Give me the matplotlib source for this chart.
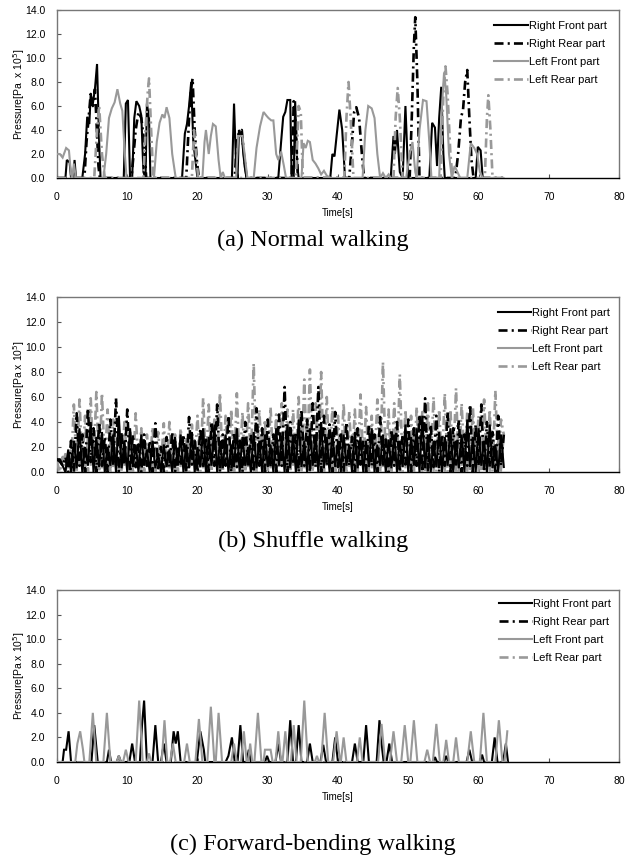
import numpy as np
import matplotlib
matplotlib.use("Agg")
import matplotlib.pyplot as plt

plt.rcParams['font.family'] = ['Liberation Sans', 'DejaVu Sans']
plt.rcParams['lines.scale_dashes'] = False

# ---------------- data ----------------
labels = ["Right Front part", "Right Rear part", "Left Front part", "Left Rear part"]
captions = ["(a) Normal walking", "(b) Shuffle walking", "(c) Forward-bending walking"]
x_ticks = [0, 10, 20, 30, 40, 50, 60, 70, 80]
y_ticks = [0, 2, 4, 6, 8, 10, 12, 14]

# (a) Normal walking  -- (time, value)
a_rf_t = [0, 1.2, 1.4, 1.8, 2.0, 2.3, 2.5, 2.7,
          3.6, 4.0, 4.3, 4.6, 4.8, 5.1, 5.4, 5.7, 6.0, 6.2,
          9.5, 9.8, 10.1, 10.4, 10.7, 11.0, 11.3, 11.7, 12.0, 12.3, 12.6, 12.8, 13.1, 13.3,
          17.8, 18.2, 18.5, 18.8, 19.1, 19.4, 19.8, 20.0,
          24.9, 25.2, 25.5, 25.7, 25.9, 26.3, 26.7, 27.0,
          31.5, 31.9, 32.2, 32.5, 32.8, 33.2, 33.4, 33.7, 33.9, 34.2, 34.4,
          38.9, 39.2, 39.5, 39.8, 40.2, 40.6, 41.0,
          47.5, 47.9, 48.1, 48.4, 48.8, 49.2, 49.6, 50.0,
          53.0, 53.4, 53.8, 54.1, 54.4, 54.7, 55.0, 55.2,
          59.6, 59.9, 60.3, 60.6, 63.5]
a_rf_v = [0, 0, 1.5, 1.3, 0, 0, 1.5, 0,
          0, 2.0, 5.1, 4.5, 7.0, 6.2, 7.4, 9.5, 3.0, 0,
          0, 6.2, 6.5, 0, 0, 5.0, 6.4, 6.0, 5.2, 0.5, 0, 6.2, 5.0, 0,
          0, 3.7, 4.5, 6.0, 8.0, 3.0, 1.0, 0,
          0, 6.2, 1.0, 0, 4.0, 3.5, 1.0, 0,
          0, 3.0, 5.1, 5.5, 6.5, 6.5, 0, 0, 6.4, 1.0, 0,
          0, 2.0, 1.8, 3.5, 5.7, 4.0, 0,
          0, 3.5, 2.0, 4.0, 0.5, 0, 6.0, 0,
          0, 4.6, 4.2, 1.0, 5.0, 7.6, 2.0, 0,
          0, 2.6, 2.3, 0, 0]

a_rr_t = [0, 3.9, 4.2, 4.5, 4.8, 5.1, 5.4, 5.6, 5.9, 6.1,
          10.6, 10.9, 11.2, 11.6, 12.0, 12.4, 12.7,
          18.4, 18.8, 19.1, 19.3, 19.6, 19.9, 20.2,
          25.3, 25.6, 25.9, 26.3, 26.6, 27.0,
          33.4, 33.7, 34.0, 34.3,
          41.6, 42.0, 42.3, 42.6, 43.0, 43.4, 43.7,
          50.2, 50.5, 50.8, 51.0, 51.3, 51.6,
          56.7, 57.1, 57.5, 57.8, 58.1, 58.4, 58.7, 59.0, 59.3, 63.5]
a_rr_v = [0, 0, 3.0, 5.0, 7.0, 6.0, 7.4, 5.0, 1.0, 0,
          0, 2.0, 4.0, 5.5, 5.0, 3.0, 0,
          0, 5.0, 7.5, 8.3, 4.0, 1.5, 0,
          0, 3.0, 3.8, 4.0, 2.0, 0,
          0, 6.4, 4.0, 0,
          0, 3.0, 5.5, 5.9, 5.0, 2.0, 0,
          0, 5.0, 11.0, 13.4, 8.0, 0,
          0, 2.0, 5.0, 5.7, 8.0, 9.0, 5.0, 1.5, 0, 0]

a_lf_t = [0, 0.4, 0.8, 1.3, 1.7, 2.0, 2.2, 2.4, 2.7,
          6.6, 7.0, 7.4, 7.8, 8.2, 8.6, 9.0, 9.3, 9.6, 9.9,
          13.8, 14.2, 14.6, 15.0, 15.3, 15.6, 16.0, 16.4, 16.9,
          20.7, 21.0, 21.2, 21.6, 21.9, 22.2, 22.6, 23.0, 23.3, 23.6, 23.9,
          25.5, 25.8, 26.4, 26.8, 27.1,
          28.0, 28.4, 28.9, 29.4, 29.8, 30.1, 30.5, 30.8, 31.2, 31.5, 31.9, 32.3, 32.6,
          34.8, 35.1, 35.4, 35.7, 36.0, 36.4, 36.8, 37.2, 37.6, 38.0, 38.4, 38.9,
          43.5, 43.9, 44.3, 44.8, 45.2, 45.6, 46.0, 46.4, 46.8, 47.2, 47.5,
          49.7, 50.2, 50.6, 51.0,
          51.2, 51.6, 52.1, 52.6, 53.0, 53.3,
          54.4, 54.8, 55.1, 55.4, 55.8, 56.2, 56.6, 57.0, 57.4,
          58.4, 58.9, 59.4, 59.8, 60.2, 60.6, 63.5]
a_lf_v = [2.0, 2.0, 1.7, 2.5, 2.3, 0.3, 0, 1.2, 0,
          0, 2.0, 5.0, 5.8, 6.3, 7.4, 6.2, 5.6, 2.5, 0,
          0, 3.0, 4.6, 5.3, 5.0, 5.9, 5.0, 2.0, 0,
          0, 3.0, 4.0, 2.0, 3.5, 4.5, 4.3, 1.5, 0, 0.5, 0,
          0, 3.5, 3.5, 1.5, 0,
          0, 2.5, 4.3, 5.5, 5.2, 5.0, 4.8, 4.8, 2.0, 1.5, 2.2, 1.0, 0,
          0, 2.9, 2.5, 3.1, 3.0, 1.5, 1.2, 0.8, 0.3, 0.6, 0.2, 0,
          0, 4.0, 6.0, 5.8, 5.0, 2.0, 0, 0.4, 0, 0.3, 0,
          0, 2.0, 3.0, 0.5,
          0, 4.0, 6.5, 6.4, 3.0, 0,
          0, 6.0, 8.8, 7.0, 2.0, 0, 1.0, 0.5, 0,
          0, 2.9, 2.5, 2.0, 0.5, 0, 0]

a_lr_t = [0, 5.3, 5.7, 6.0, 6.4, 6.8,
          12.3, 12.6, 12.9, 13.1, 13.4, 13.7,
          19.2, 19.5, 19.8, 20.1,
          34.0, 34.4, 34.7, 35.0,
          40.9, 41.2, 41.5, 41.8, 42.2,
          47.9, 48.2, 48.5, 48.8, 49.2,
          54.6, 55.0, 55.3, 55.6, 56.0, 56.3,
          60.9, 61.2, 61.4, 61.7, 62.0, 63.5]
a_lr_v = [0, 0, 4.0, 6.0, 2.0, 0,
          0, 4.0, 7.0, 8.3, 4.0, 0,
          0, 4.0, 2.0, 0,
          0, 6.0, 5.5, 0,
          0, 5.0, 8.0, 5.0, 0,
          0, 5.0, 7.5, 5.0, 0,
          0, 7.0, 9.3, 7.0, 2.0, 0,
          0, 5.0, 6.9, 4.0, 0, 0]

# (b) Shuffle walking -- samples every 0.4 s from 0 to 63.6 s
b_time_step = 0.4
b_rf_v = [1.0, 0.8, 0.5, 0, 1.8, 0, 2.5, 0.3, 3.5, 0, 2.0, 0.5, 4.0, 0, 2.8, 0.4, 3.2, 0, 2.0, 0.5,
          3.0, 0, 4.5, 0.3, 2.5, 0, 3.5, 0.4, 2.2, 0, 3.0, 0.5, 1.8, 0, 2.5, 0.3, 1.5, 0, 2.2, 0.4,
          1.8, 0, 2.8, 0.5, 3.0, 0, 2.2, 0.3, 3.2, 0, 2.0, 0.4, 3.5, 0, 2.8, 0.5, 3.8, 0, 2.5, 0.3,
          3.0, 0, 2.2, 0.4, 3.5, 0, 2.8, 0.5, 2.0, 0, 3.2, 0.3, 2.5, 0, 3.0, 0.4, 2.2, 0, 3.5, 0.5,
          2.8, 0, 3.8, 0.3, 3.0, 0, 4.2, 0.4, 2.5, 0, 3.5, 0.5, 3.0, 0, 4.0, 0.3, 2.8, 0, 3.2, 0.4,
          2.5, 0, 3.0, 0.5, 2.2, 0, 3.2, 0.3, 2.8, 0, 2.5, 0.4, 3.5, 0, 2.2, 0.5, 3.0, 0, 2.6, 0.3,
          3.0, 0, 2.5, 0.4, 3.8, 0, 2.8, 0.5, 3.5, 0, 4.5, 0.3, 3.0, 0, 2.5, 0.4, 3.2, 0, 2.8, 0.5,
          3.5, 0, 2.5, 0.3, 3.0, 0, 4.2, 0.4, 2.8, 0, 3.5, 0.5, 2.5, 0, 3.8, 0.3, 2.2, 0, 3.0, 0.4]
b_rr_v = [1.0, 1.0, 0.5, 1.2, 0, 2.5, 0, 4.7, 0.5, 3.0, 0, 5.1, 0.8, 3.5, 0, 4.0, 0.5, 2.8, 0, 4.2,
          0.5, 5.9, 0, 3.2, 0.6, 5.0, 0, 3.0, 0.4, 2.2, 0, 3.0, 0.5, 2.5, 0, 3.9, 0.3, 2.0, 0, 2.8,
          0.4, 3.2, 0, 2.0, 0.5, 3.0, 0, 4.4, 0.6, 2.5, 0, 3.5, 0.3, 2.8, 0, 4.0, 0.5, 5.4, 0, 3.0,
          0.5, 4.5, 0, 3.2, 0.4, 2.5, 0, 4.0, 0.6, 3.0, 0, 5.1, 0.5, 3.5, 0, 4.2, 0.4, 3.0, 0, 4.6,
          0.5, 6.8, 0, 4.0, 0.6, 3.2, 0, 5.0, 0.5, 4.2, 0, 5.5, 0.4, 6.8, 0, 4.5, 0.5, 3.8, 0, 4.8,
          0.4, 3.2, 0, 4.0, 0.5, 2.8, 0, 3.5, 0.6, 2.5, 0, 3.8, 0.5, 3.0, 0, 4.4, 0.4, 2.6, 0, 3.4,
          0.5, 4.0, 0, 3.0, 0.6, 4.2, 0, 3.5, 0.5, 4.6, 0, 5.9, 0, 3.8, 0.4, 4.5, 0, 3.0, 0.5, 4.8,
          0, 3.5, 0.6, 4.2, 0, 3.0, 0.5, 5.4, 0, 3.8, 0.5, 5.4, 0, 4.0, 0.4, 3.2, 0, 4.5, 0.5, 3.0]
b_lf_v = [1.0, 1.0, 0.8, 1.5, 0.3, 1.8, 0, 2.5, 0.4, 2.0, 0, 3.0, 0.5, 2.2, 0, 2.8, 0.3, 1.8, 0, 2.5,
          0.4, 2.0, 0, 2.8, 0.5, 1.5, 0, 2.2, 0.3, 1.8, 0, 2.5, 0.4, 1.5, 0, 2.0, 0.5, 1.2, 0, 1.8,
          0.3, 2.2, 0, 1.6, 0.4, 2.0, 0, 2.5, 0.5, 1.8, 0, 2.8, 0.3, 2.2, 0, 3.0, 0.4, 2.0, 0, 2.6,
          0.5, 2.2, 0, 3.0, 0.3, 2.5, 0, 2.0, 0.4, 2.8, 0, 2.2, 0.5, 3.2, 0, 2.0, 0.3, 2.6, 0, 2.4,
          0.4, 2.8, 0, 3.0, 0.5, 2.2, 0, 3.5, 0.3, 2.6, 0, 2.4, 0.4, 3.0, 0, 2.2, 0.5, 2.8, 0, 2.0,
          0.3, 2.5, 0, 2.2, 0.4, 3.0, 0, 2.0, 0.5, 2.6, 0, 2.4, 0.3, 2.8, 0, 2.2, 0.4, 3.0, 0, 2.5,
          0.5, 2.0, 0, 2.8, 0.3, 2.4, 0, 3.2, 0.4, 2.2, 0, 2.6, 0.5, 3.0, 0, 2.0, 0.3, 2.8, 0, 2.5,
          0.4, 3.0, 0, 2.2, 0.5, 2.6, 0, 2.0, 0.3, 2.8, 0, 2.4, 0.4, 3.0, 0, 2.2, 0.5, 2.6, 0, 2.8]
b_lr_v = [0.8, 0, 1.2, 0, 1.5, 0.3, 5.4, 0, 5.8, 0.5, 4.5, 0, 5.9, 0.4, 6.4, 0, 6.3, 0.5, 5.0, 0,
          4.2, 0.4, 3.5, 0, 4.0, 0.6, 3.2, 0, 4.7, 0.5, 3.5, 0, 3.0, 0.4, 3.6, 0, 3.2, 0.5, 3.9, 0,
          4.0, 0.4, 3.0, 0, 3.5, 0.5, 2.8, 0, 3.8, 0.6, 4.5, 0, 5.9, 0.5, 5.4, 0, 4.2, 0.4, 6.3, 0,
          4.5, 0.5, 5.0, 0, 6.3, 0.4, 4.8, 0, 5.5, 0.6, 8.7, 0, 5.0, 0.5, 4.2, 0, 5.2, 0.4, 4.6, 0,
          5.5, 0.5, 5.0, 0, 5.0, 0.6, 6.0, 0, 7.4, 0.4, 8.2, 0, 5.5, 0.5, 8.0, 0, 6.0, 0.4, 5.2, 0,
          4.5, 0.5, 5.5, 0, 4.8, 0.6, 5.0, 0, 6.2, 0.4, 5.2, 0, 4.5, 0.5, 5.8, 0, 8.8, 0.4, 5.0, 0,
          5.5, 0.5, 7.8, 0, 5.0, 0.6, 4.5, 0, 5.2, 0.4, 4.8, 0, 5.5, 0.5, 6.0, 0, 5.0, 0.4, 6.3, 0,
          5.0, 0.5, 6.7, 0, 5.5, 0.6, 4.8, 0, 5.2, 0.4, 4.5, 0, 5.8, 0.5, 5.0, 0, 6.5, 0.4, 4.2, 3.0]

# (c) Forward-bending walking
c_rf_t = [0, 0.8, 1.0, 1.3, 1.65, 2.0, 4.9, 5.3, 5.8, 7.1, 7.4, 7.7, 8.5, 8.8, 9.1,
          10.3, 10.7, 11.1, 11.8, 12.1, 12.4, 12.8, 13.6, 14.0, 14.4, 14.8, 15.2, 15.6,
          16.2, 16.6, 16.9, 17.2, 17.6, 19.9, 20.4, 20.9, 21.1,
          24.0, 24.4, 24.9, 25.3, 25.7, 26.1, 26.5, 27.0, 27.3, 27.6, 29.6, 29.9, 30.2,
          31.1, 31.5, 31.9, 32.8, 33.2, 33.6, 34.0, 34.4, 34.8, 35.6, 36.0, 36.4,
          37.5, 37.9, 38.3, 39.2, 39.6, 40.0, 42.0, 42.4, 42.8, 43.6, 44.0, 44.4,
          45.5, 45.9, 46.3, 46.5, 46.9, 47.3, 47.7, 53.5, 53.8, 54.1, 55.1, 55.4, 55.7,
          58.3, 58.7, 59.1, 60.2, 60.5, 60.8, 61.9, 62.3, 62.7, 63.5, 63.9, 64.2]
c_rf_v = [0, 0, 1.0, 1.0, 2.5, 0, 0, 3.0, 0, 0, 1.0, 0, 0, 0.5, 0,
          0, 1.5, 0, 0, 3.0, 5.0, 0, 0, 3.0, 0, 0, 1.5, 0,
          0, 2.5, 1.5, 2.5, 0, 0, 2.5, 1.0, 0,
          0, 0.5, 2.0, 0, 0, 3.0, 0, 0, 1.0, 0, 0, 0.5, 0,
          0, 1.5, 0, 0, 3.4, 0, 0, 3.0, 0, 0, 1.5, 0,
          0, 1.4, 0, 0, 2.0, 0, 0, 1.5, 0, 0, 3.0, 0,
          0, 3.4, 1.0, 0, 0, 1.5, 0, 0, 0.4, 0, 0, 0.5, 0,
          0, 1.0, 0, 0, 0.6, 0, 0, 2.0, 0, 0, 1.5, 0]

c_lf_t = [0, 2.6, 2.9, 3.3, 3.7, 3.9, 4.6, 5.1, 5.6, 6.6, 7.1, 7.6, 8.5, 8.8, 9.1,
          9.4, 9.8, 10.2, 11.2, 11.7, 12.2, 12.8, 13.1, 13.4, 14.9, 15.3, 15.7,
          16.1, 16.5, 16.9, 18.1, 18.5, 18.9, 19.7, 20.2, 20.7, 21.4, 21.9, 22.4,
          22.6, 23.0, 23.5, 24.8, 25.2, 25.6, 26.2, 26.6, 27.0, 27.2, 27.5, 27.8,
          28.1, 28.6, 29.1, 29.4, 29.6, 30.4, 30.7, 31.1, 31.5, 31.9, 32.1, 32.5, 32.9,
          33.3, 33.7, 34.1, 34.7, 35.2, 35.7, 36.7, 37.0, 37.3, 37.6, 38.1, 38.6,
          39.3, 39.8, 40.3, 40.4, 40.8, 41.2, 42.7, 43.1, 43.5, 45.7, 46.2, 46.7,
          47.4, 47.9, 48.4, 49.0, 49.5, 50.0, 50.3, 50.8, 51.3, 52.3, 52.7, 53.1,
          53.5, 54.0, 54.5, 55.0, 55.4, 55.8, 56.4, 56.8, 57.2, 58.4, 58.9, 59.4,
          60.2, 60.7, 61.2, 62.4, 62.9, 63.4, 63.7, 64.1]
c_lf_v = [0, 0, 1.5, 2.5, 1.0, 0, 0, 4.0, 0, 0, 4.0, 0, 0, 0.5, 0,
          0, 1.0, 0, 0, 5.0, 0, 0, 0.7, 0, 0, 3.4, 0,
          0, 1.5, 0, 0, 1.5, 0, 0, 3.5, 0, 0, 4.5, 0,
          0, 4.0, 0, 0, 1.5, 0, 0, 2.5, 0, 0, 1.5, 0,
          0, 4.0, 0, 0, 1.0, 1.0, 0, 0, 2.5, 0, 0, 2.5, 0,
          0, 3.0, 0, 0, 5.0, 0, 0, 0.5, 0, 0, 4.0, 0,
          0, 2.5, 0, 0, 2.0, 0, 0, 2.0, 0, 0, 3.1, 0,
          0, 2.5, 0, 0, 3.0, 0, 0, 3.4, 0, 0, 1.0, 0,
          0, 3.1, 0, 0, 1.8, 0, 0, 2.0, 0, 0, 2.5, 0,
          0, 4.0, 0, 0, 3.4, 0, 0, 2.5]
c_rr_t = [0, 64.1]
c_rr_v = [0, 0]
c_lr_t = [0, 64.1]
c_lr_v = [0, 0]

# ---------------- drawing ----------------
BLACK = '#000000'
GRAY = '#999999'
DASHDOT = (0, (6.5, 3.0, 1.5, 3.0))
styles = [dict(color=BLACK, ls='-', lw=1.5),
          dict(color=BLACK, ls=DASHDOT, lw=1.9),
          dict(color=GRAY, ls='-', lw=1.5),
          dict(color=GRAY, ls=DASHDOT, lw=1.9)]

W, H = 626, 859
fig = plt.figure(figsize=(W / 100, H / 100), dpi=100)

def axes_px(left, top, right, bottom):
    return fig.add_axes([left / W, 1 - bottom / H, (right - left) / W, (bottom - top) / H])

b_t = list(np.arange(len(b_rf_v)) * b_time_step)

panels = [
    dict(box=(57, 10, 619, 178), ylabel=r'Pressure[Pa  x 10$^5$]',
         series=[(a_rf_t, a_rf_v), (a_rr_t, a_rr_v), (a_lf_t, a_lf_v), (a_lr_t, a_lr_v)],
         zorders=[3, 4, 5, 6], leg=(0.778, 0.933), cap_y=240),
    dict(box=(57, 297, 619, 472), ylabel=r'Pressure[Pa x 10$^5$]',
         series=[(b_t, b_rf_v), (b_t, b_rr_v), (b_t, b_lf_v), (b_t, b_lr_v)],
         zorders=[5, 6, 3, 4], leg=(0.784, 0.935), cap_y=541),
    dict(box=(57, 590, 619, 762), ylabel=r'Pressure[Pa x 10$^5$]',
         series=[(c_rf_t, c_rf_v), (c_rr_t, c_rr_v), (c_lf_t, c_lf_v), (c_lr_t, c_lr_v)],
         zorders=[3, 4, 5, 6], leg=(0.786, 0.95), cap_y=844),
]

for k, p in enumerate(panels):
    ax = axes_px(*p['box'])
    handles = []
    for (t, v), st, lab, z in zip(p['series'], styles, labels, p['zorders']):
        h, = ax.plot(t, v, label=lab, zorder=z, solid_joinstyle='miter', **st)
        handles.append(h)
    ax.set_xlim(0, 80)
    ax.set_ylim(0, 14)
    ax.set_xticks(x_ticks)
    ax.set_yticks(y_ticks)
    ax.set_yticklabels([f'{y:.1f}' for y in y_ticks])
    ax.tick_params(axis='both', direction='in', length=3, width=0.8, labelsize=7.5,
                   color='#555555')
    ax.tick_params(axis='y', pad=8.5)
    ax.tick_params(axis='x', pad=10)
    for s in ['top', 'right', 'left']:
        ax.spines[s].set_color('#777777')
        ax.spines[s].set_linewidth(1.0)
    ax.spines['bottom'].set_color('#000000')
    ax.spines['bottom'].set_linewidth(1.0)
    ax.set_xlabel('Time[s]', fontsize=7, labelpad=4.5)
    ax.set_ylabel(p['ylabel'], fontsize=7.5, labelpad=-1.5)
    leg = ax.legend(handles=handles, loc='upper left', bbox_to_anchor=p['leg'],
                    frameon=False, fontsize=8, handlelength=3.0, handletextpad=0.1,
                    labelspacing=0.72, borderpad=0, borderaxespad=0)
    fig.text(0.5, 1 - p['cap_y'] / H, captions[k], ha='center', va='center',
             fontsize=17.5, family='Liberation Serif')

fig.savefig('out.png', dpi=100)
